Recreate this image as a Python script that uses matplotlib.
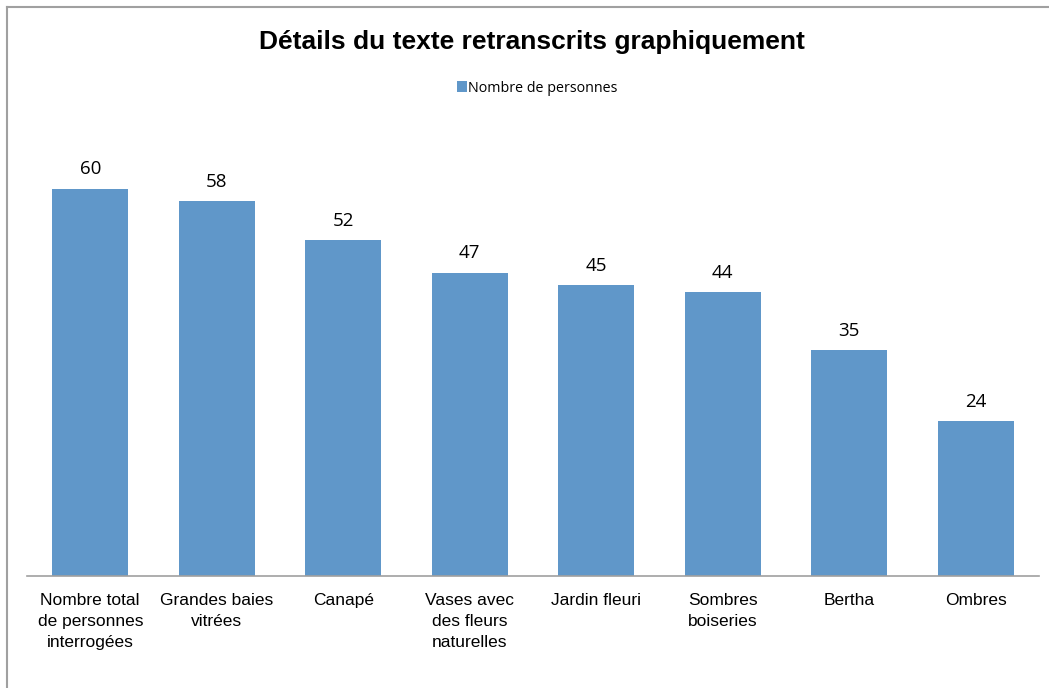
import matplotlib

matplotlib.use("Agg")
import matplotlib.pyplot as plt
import numpy as np

categories = [
    "Nombre total\nde personnes\ninterrogées",
    "Grandes baies\nvitrées",
    "Canapé",
    "Vases avec\ndes fleurs\nnaturelles",
    "Jardin fleuri",
    "Sombres\nboiseries",
    "Bertha",
    "Ombres",
]
values = [60, 58, 52, 47, 45, 44, 35, 24]
series_name = "Nombre de personnes"
title = "Détails du texte retranscrits graphiquement"

BAR_COLOR = "#6097c9"

fig = plt.figure(figsize=(10.49, 6.88), dpi=100)
W, H = 1049, 688

# axes box in pixel coordinates: x 27..1039, baseline at y=576, top at 124
ax = fig.add_axes([27 / W, (H - 576) / H, 1012 / W, (576 - 124) / H])
x = np.arange(len(categories))
ax.bar(x, values, width=0.6, color=BAR_COLOR, label=series_name)
ax.set_xlim(-0.5, len(categories) - 0.5)
ax.set_ylim(0, 70)

for xi, v in zip(x, values):
    ax.text(xi, v + 1.6, str(v), ha="center", va="bottom",
            fontsize=13.5, family="Open Sans", color="black")

ax.set_xticks(x, categories)
ax.tick_params(axis="x", length=0, pad=12.5, labelsize=12.5)
for lbl in ax.get_xticklabels():
    lbl.set_family("Liberation Sans")
    lbl.set_linespacing(1.5)
    lbl.set_verticalalignment("top")
ax.set_yticks([])
for side in ("top", "right", "left"):
    ax.spines[side].set_visible(False)
ax.spines["bottom"].set_color("#a0a0a0")
ax.spines["bottom"].set_linewidth(1.2)

fig.text(532 / W, 1 - 42 / H, title, ha="center", va="center",
         fontsize=19, fontweight="bold", family="Liberation Sans")

# legend
fig.legend(loc="center", bbox_to_anchor=(537 / W, 1 - 88 / H), frameon=False,
           prop={"family": "Open Sans", "size": 10.3}, handlelength=0.7,
           handleheight=0.7, handletextpad=0.1)

# chart-area border (top and left edges visible in the crop)
fig.add_artist(plt.Line2D([7 / W, 1], [1 - 6.5 / H, 1 - 6.5 / H],
                          transform=fig.transFigure, color="#a0a0a0", lw=1.5))
fig.add_artist(plt.Line2D([7 / W, 7 / W], [0, 1 - 6.5 / H],
                          transform=fig.transFigure, color="#a0a0a0", lw=1.5))

fig.savefig("out.png", dpi=100)
